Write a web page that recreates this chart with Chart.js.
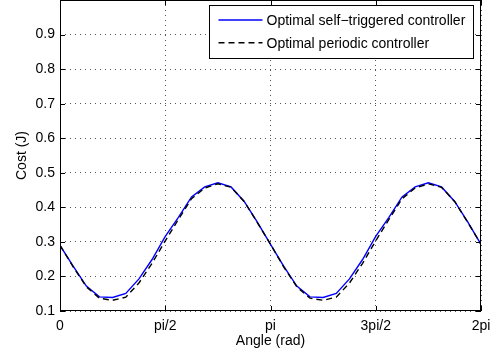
<!DOCTYPE html>
<html>
<head>
<meta charset="utf-8">
<script src="https://cdn.jsdelivr.net/npm/chart.js@4/dist/chart.umd.min.js"></script>
<style>
  body { margin: 0; background: #fff; }
  #wrap { width: 497px; height: 356px; }
</style>
</head>
<body>
<div id="wrap"><canvas id="costChart" width="497" height="356"></canvas></div>
<script>
// angle samples (rad), steps of pi/16 over one full turn
const angles = [
    0.000, 0.196, 0.393, 0.589, 0.785, 0.982, 1.178, 1.374, 1.571,
    1.767, 1.963, 2.160, 2.356, 2.553, 2.749, 2.945, 3.142,
    3.338, 3.534, 3.731, 3.927, 4.123, 4.320, 4.516, 4.712,
    4.909, 5.105, 5.301, 5.498, 5.694, 5.890, 6.087, 6.283
];

// cost
const selfTriggered = [
    0.290, 0.230, 0.172, 0.141, 0.139, 0.151, 0.193, 0.249, 0.316,
    0.371, 0.430, 0.459, 0.471, 0.459, 0.417, 0.357, 0.293,
    0.230, 0.172, 0.141, 0.139, 0.151, 0.193, 0.249, 0.316,
    0.371, 0.430, 0.459, 0.471, 0.459, 0.417, 0.357, 0.293
];
const periodic = [
    0.290, 0.228, 0.170, 0.137, 0.131, 0.140, 0.181, 0.238, 0.303,
    0.365, 0.425, 0.456, 0.468, 0.458, 0.417, 0.356, 0.293,
    0.228, 0.170, 0.137, 0.131, 0.140, 0.181, 0.238, 0.303,
    0.365, 0.425, 0.456, 0.468, 0.458, 0.417, 0.356, 0.293
];

const xTickValues = [0, Math.PI / 2, Math.PI, 3 * Math.PI / 2, 2 * Math.PI];
const xTickLabels = ['0', 'pi/2', 'pi', '3pi/2', '2pi'];
const yTickValues = [0.1, 0.2, 0.3, 0.4, 0.5, 0.6, 0.7, 0.8, 0.9];

const FONT = '"Liberation Sans", Arial, sans-serif';

function toPoints(values) {
    return values.map((v, i) => ({ x: angles[i], y: v }));
}

// MATLAB-style box, inward ticks and legend
const matlabFrame = {
    id: 'matlabFrame',
    afterDatasetsDraw(chart) {
        const { ctx, chartArea: a, scales } = chart;
        ctx.save();
        ctx.strokeStyle = '#000';
        ctx.lineWidth = 1;
        ctx.setLineDash([]);
        ctx.strokeRect(a.left + 0.5, a.top + 0.5, a.right - a.left - 1, a.bottom - a.top - 1);

        const len = 5;
        ctx.beginPath();
        xTickValues.forEach(v => {
            const px = Math.round(scales.x.getPixelForValue(v)) + 0.5;
            ctx.moveTo(px, a.bottom); ctx.lineTo(px, a.bottom - len);
            ctx.moveTo(px, a.top); ctx.lineTo(px, a.top + len);
        });
        yTickValues.forEach(v => {
            const py = Math.round(scales.y.getPixelForValue(v)) + 0.5;
            ctx.moveTo(a.left, py); ctx.lineTo(a.left + len, py);
            ctx.moveTo(a.right, py); ctx.lineTo(a.right - len, py);
        });
        ctx.stroke();

        // legend box
        const w = 264, h = 53;
        const lx = Math.round(a.right - 8 - w) + 0.5;
        const ly = Math.round(a.top + 5) + 0.5;
        ctx.fillStyle = '#fff';
        ctx.fillRect(lx, ly, w, h);
        ctx.strokeRect(lx, ly, w, h);
        ctx.font = '14px ' + FONT;
        ctx.textBaseline = 'middle';
        chart.data.datasets.forEach((ds, i) => {
            const rowY = ly + 14.5 + i * 22.7;
            ctx.strokeStyle = ds.borderColor;
            ctx.lineWidth = ds.borderWidth;
            ctx.setLineDash(ds.borderDash || []);
            ctx.beginPath();
            ctx.moveTo(lx + 9, rowY);
            ctx.lineTo(lx + 53, rowY);
            ctx.stroke();
            ctx.fillStyle = '#000';
            ctx.fillText(ds.label, lx + 57, rowY + 1);
        });
        ctx.restore();
    }
};

const ctx = document.getElementById('costChart');
new Chart(ctx, {
    type: 'line',
    data: {
        datasets: [
            {
                label: 'Optimal self\u2212triggered controller',
                data: toPoints(selfTriggered),
                borderColor: '#0000ff',
                borderWidth: 1.4,
                pointRadius: 0,
                tension: 0,
                order: 1
            },
            {
                label: 'Optimal periodic controller',
                data: toPoints(periodic),
                borderColor: '#000000',
                borderWidth: 1.4,
                borderDash: [6, 4],
                pointRadius: 0,
                tension: 0,
                order: 0
            }
        ]
    },
    options: {
        responsive: false,
        animation: false,
        layout: { padding: { left: 0, right: 16, top: 0, bottom: 0 } },
        plugins: {
            legend: { display: false },
            tooltip: { enabled: false }
        },
        scales: {
            x: {
                type: 'linear',
                min: 0,
                max: 2 * Math.PI,
                afterBuildTicks: (scale) => {
                    scale.ticks = xTickValues.map(v => ({ value: v }));
                },
                afterFit: (scale) => {
                    scale.height = 45;
                    scale.paddingLeft = 0;
                    scale.paddingRight = 0;
                },
                ticks: {
                    autoSkip: false,
                    maxRotation: 0,
                    padding: 7,
                    color: '#000',
                    font: { family: FONT, size: 14 },
                    callback: (value, index) => xTickLabels[index]
                },
                grid: {
                    color: '#555',
                    lineWidth: 1,
                    drawTicks: false
                },
                border: { display: false, dash: [1, 4] },
                title: {
                    display: true,
                    text: 'Angle (rad)',
                    color: '#000',
                    font: { family: FONT, size: 14 },
                    padding: { top: 0, bottom: 6 }
                }
            },
            y: {
                type: 'linear',
                min: 0.1,
                max: 1.0,
                afterBuildTicks: (scale) => {
                    scale.ticks = yTickValues.map(v => ({ value: v }));
                },
                afterFit: (scale) => {
                    scale.width = 60;
                    scale.paddingTop = 0;
                    scale.paddingBottom = 0;
                },
                ticks: {
                    padding: 5,
                    color: '#000',
                    font: { family: FONT, size: 14 },
                    callback: (value) => value.toFixed(1)
                },
                grid: {
                    color: '#555',
                    lineWidth: 1,
                    drawTicks: false
                },
                border: { display: false, dash: [1, 4] },
                title: {
                    display: true,
                    text: 'Cost (J)',
                    color: '#000',
                    font: { family: FONT, size: 14 },
                    padding: { top: 14, bottom: 0 }
                }
            }
        }
    },
    plugins: [matlabFrame]
});
</script>
</body>
</html>
